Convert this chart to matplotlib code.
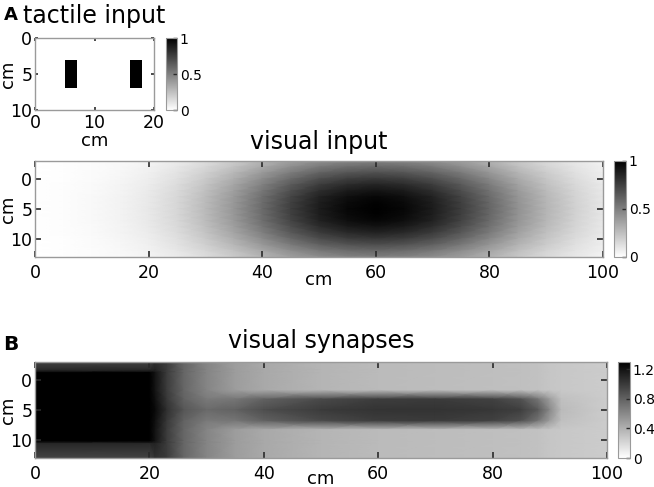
import numpy as np
import matplotlib
matplotlib.use('Agg')
import matplotlib.pyplot as plt

# tactile input: 20 x 10 cm skin patch, two pressed bars
tactile_shape = (10, 20)
tactile_bars_x = [(5, 7), (16, 18)]
tactile_bars_y = (3, 7)

# visual input, read along the centre row (y = 5) and the centre column (x = 60)
vis_x = [0, 5, 10, 15, 20, 25, 30, 35, 40, 45, 50, 55, 60, 65, 70, 75, 80, 85, 90, 95, 100]
vis_x_profile = [0.004, 0.01, 0.025, 0.05, 0.09, 0.16, 0.27, 0.41, 0.58, 0.75, 0.89, 0.97, 1.0,
                 0.97, 0.89, 0.76, 0.60, 0.43, 0.29, 0.18, 0.10]
vis_y = [-3, -2, -1, 0, 1, 2, 3, 4, 5, 6, 7, 8, 9, 10, 11, 12, 13]
vis_y_profile = [0.50, 0.59, 0.69, 0.78, 0.86, 0.92, 0.97, 0.99, 1.0, 0.99, 0.97, 0.92, 0.86,
                 0.78, 0.69, 0.59, 0.50]

# visual synapses, sampled at a few x / y nodes
syn_x = [0, 20, 21, 23, 26, 30, 35, 40, 50, 60, 70, 80, 85, 88, 90, 92, 100]
syn_bg = [1.3, 1.3, 1.2, 1.0, 0.78, 0.62, 0.5, 0.44, 0.38, 0.35, 0.34, 0.33, 0.32, 0.31, 0.29, 0.28, 0.26]
syn_edge = [1.3, 1.3, 1.22, 1.02, 0.8, 0.68, 0.7, 0.8, 0.92, 0.99, 1.0, 0.96, 0.88, 0.7, 0.5, 0.32, 0.26]
syn_core = [1.3, 1.3, 1.25, 1.06, 0.86, 0.76, 0.8, 0.9, 1.0, 1.04, 1.04, 1.02, 0.98, 0.84, 0.6, 0.35, 0.26]
syn_strip_in = [1.1, 1.1, 1.12, 1.0, 0.78, 0.62, 0.5, 0.44, 0.38, 0.35, 0.34, 0.33, 0.32, 0.31, 0.29, 0.28, 0.26]
syn_strip_out = [0.95, 0.95, 1.05, 1.0, 0.78, 0.62, 0.5, 0.44, 0.38, 0.35, 0.34, 0.33, 0.32, 0.31, 0.29, 0.28, 0.26]
syn_y = [-3, -1.6, -1.2, 1.7, 3.2, 5, 6.8, 8.3, 10.2, 10.6, 13]

W, H = 654, 487
SPINE = '#9a9a9a'
TICK = '#2a2a2a'


def box(l, t, r, b):
    # pixel box -> figure fraction
    return [l / W, (H - b) / H, (r - l) / W, (b - t) / H]


def style(ax, length=4.5, size=12.5, pad=5):
    for s in ax.spines.values():
        s.set_color(SPINE)
        s.set_linewidth(1.0)
    ax.tick_params(direction='in', top=True, right=True, length=length, width=1.2,
                   color=TICK, labelsize=size, pad=pad)


def style_cbar(cb, ticks, labels):
    cb.set_ticks(ticks)
    cb.set_ticklabels(labels)
    cb.outline.set_edgecolor(SPINE)
    cb.ax.tick_params(direction='in', length=3, width=1, color=TICK, labelsize=10, pad=2)


def main():
    fig = plt.figure(figsize=(W / 100, H / 100), dpi=100)

    # ---- tactile input
    tactile = np.zeros(tactile_shape)
    for x0, x1 in tactile_bars_x:
        tactile[tactile_bars_y[0]:tactile_bars_y[1], x0:x1] = 1
    ax1 = fig.add_axes(box(35, 38, 154, 110))
    im1 = ax1.imshow(tactile, cmap='gray_r', vmin=0, vmax=1, extent=[0, 20, 10, 0],
                     aspect='auto', interpolation='nearest')
    ax1.set_xticks([0, 10, 20])
    ax1.set_yticks([0, 5, 10])
    style(ax1, length=2, size=12.5, pad=3)
    ax1.tick_params(axis='y', pad=2)
    ax1.set_title('tactile input', fontsize=17, pad=11)
    ax1.set_xlabel('cm', fontsize=13)
    ax1.set_ylabel('cm', fontsize=13)
    ax1.xaxis.set_label_coords(0.5, -0.3)
    ax1.yaxis.set_label_coords(-0.155, 0.5)
    cax1 = fig.add_axes(box(166, 38, 177, 110))
    cb1 = fig.colorbar(im1, cax=cax1)
    style_cbar(cb1, [0, 0.5, 1], ['0', '0.5', '1'])

    # ---- visual input
    vis = np.outer(vis_y_profile, vis_x_profile)
    X, Y = np.meshgrid(vis_x, vis_y)
    ax2 = fig.add_axes(box(35, 161, 603, 257))
    im2 = ax2.pcolormesh(X, Y, vis, cmap='gray_r', vmin=0, vmax=1, shading='gouraud')
    ax2.set_xlim(0, 100)
    ax2.set_ylim(13, -3)
    ax2.set_xticks([0, 20, 40, 60, 80, 100])
    ax2.set_yticks([0, 5, 10])
    style(ax2)
    ax2.tick_params(axis='y', pad=2)
    ax2.set_title('visual input', fontsize=17, pad=9)
    ax2.set_xlabel('cm', fontsize=13)
    ax2.set_ylabel('cm', fontsize=13)
    ax2.xaxis.set_label_coords(0.5, -0.15)
    ax2.yaxis.set_label_coords(-0.031, 0.5)
    cax2 = fig.add_axes(box(614, 161, 626, 257))
    cb2 = fig.colorbar(im2, cax=cax2)
    style_cbar(cb2, [0, 0.5, 1], ['0', '0.5', '1'])

    # ---- visual synapses
    rows = [syn_strip_out, syn_strip_in, syn_bg, syn_bg, syn_edge, syn_core,
            syn_edge, syn_bg, syn_bg, syn_strip_in, syn_strip_out]
    syn = np.array(rows)
    X, Y = np.meshgrid(syn_x, syn_y)
    ax3 = fig.add_axes(box(35, 362, 607, 458))
    im3 = ax3.pcolormesh(X, Y, syn, cmap='gray_r', vmin=0, vmax=1.3, shading='gouraud')
    ax3.set_xlim(0, 100)
    ax3.set_ylim(13, -3)
    ax3.set_xticks([0, 20, 40, 60, 80, 100])
    ax3.set_yticks([0, 5, 10])
    style(ax3)
    ax3.tick_params(axis='y', pad=2)
    ax3.set_title('visual synapses', fontsize=17, pad=10)
    ax3.set_xlabel('cm', fontsize=13)
    ax3.set_ylabel('cm', fontsize=13)
    ax3.xaxis.set_label_coords(0.5, -0.12)
    ax3.yaxis.set_label_coords(-0.031, 0.5)
    cax3 = fig.add_axes(box(618, 362, 630, 458))
    cb3 = fig.colorbar(im3, cax=cax3)
    style_cbar(cb3, [0, 0.4, 0.8, 1.2], ['0', '0.4', '0.8', '1.2'])

    # panel letters
    fig.text(4 / W, 1 - 20 / H, 'A', fontsize=13, fontweight='bold')
    fig.text(3 / W, 1 - 350 / H, 'B', fontsize=14.5, fontweight='bold')

    fig.savefig('out.png', dpi=100)


if __name__ == '__main__':
    main()
